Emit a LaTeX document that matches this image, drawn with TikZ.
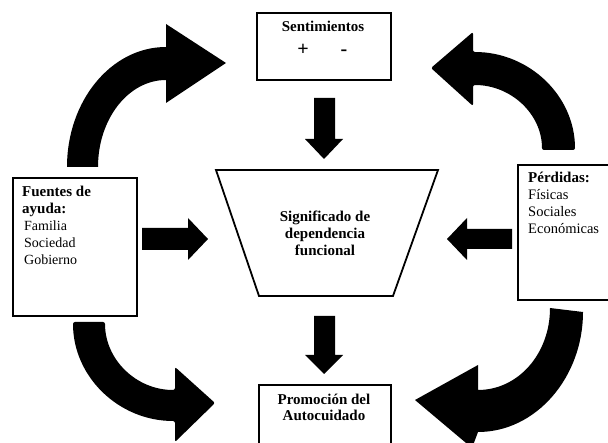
\documentclass[tikz,border=0pt]{standalone}
\usepackage{fontspec}
\setmainfont{Liberation Serif}
\begin{document}
\begin{tikzpicture}[x=1pt,y=-1pt,
  box/.style={draw, line width=2pt, fill=white, inner sep=0pt, anchor=north west},
  blk/.style={fill=black},
  bt/.style={font=\fontsize{15}{18}\selectfont\bfseries, inner sep=0pt},
  sg/.style={font=\fontsize{20}{22}\selectfont\bfseries, inner sep=0pt, anchor=base},
  rt/.style={font=\fontsize{14}{17}\selectfont, inner sep=0pt, anchor=base west},
  rtp/.style={font=\fontsize{14.5}{17}\selectfont, inner sep=0pt, anchor=base west}]
\clip (0,0) rectangle (608,443);
\fill[white] (0,0) rectangle (608,443);

% boxes
\node[box, minimum width=134pt, minimum height=67pt] (sent) at (256,12) {};
\node[box, minimum width=124pt, minimum height=138pt] (fuen) at (12,177) {};
\node[box, minimum width=100pt, minimum height=135pt] (perd) at (517,164) {};
\node[box, minimum width=132pt, minimum height=70pt] (prom) at (258,384) {};
\draw[line width=1.8pt, line join=miter] (216,170) coordinate (tl) -- (438,170) coordinate (tr)
  -- (393,296) coordinate (br) -- (259,296) coordinate (bl) -- cycle;

% texts
\node[bt, anchor=base] (t1) at (323,32) {Sentimientos};
\node[sg] (t2) at (303,56) {+};
\node[sg] (t3) at (344,56) {-};

\node[bt, anchor=base west] (f1) at (22,197) {Fuentes de};
\node[bt, anchor=base west] (f2) at (22,214) {ayuda:};
\node[rt] (f3) at (24,231) {Familia};
\node[rt] (f4) at (24,248) {Sociedad};
\node[rt] (f5) at (24,265) {Gobierno};

\node[bt, anchor=base west] (p1) at (528,183) {Pérdidas:};
\node[rtp] (p2) at (528,200) {Físicas};
\node[rtp] (p3) at (528,217) {Sociales};
\node[rtp] (p4) at (528,234) {Económicas};

\node[bt, anchor=base] (s1) at (325,222) {Significado de};
\node[bt, anchor=base] (s2) at (325,239) {dependencia};
\node[bt, anchor=base] (s3) at (325,256) {funcional};

\node[bt, anchor=base] (a1) at (324,405) {Promoción del};
\node[bt, anchor=base] (a2) at (324,421) {Autocuidado};

% straight block arrows
\fill[blk] (314,98) -- (335,98) -- (335,139) -- (343,139) -- (324,159) -- (305,139) -- (314,139) -- cycle;
\fill[blk] (314,316) -- (335,316) -- (335,355) -- (343,355) -- (324,374) -- (305,355) -- (314,355) -- cycle;
\fill[blk] (142,228) -- (188,228) -- (188,218) -- (208,239) -- (188,260) -- (188,250) -- (142,250) -- cycle;
\fill[blk] (512,229) -- (467,229) -- (467,218) -- (447,239) -- (467,260) -- (467,249) -- (512,249) -- cycle;

% curved block arrows
\fill[blk] (67,167) .. controls (67,100.7) and (111.3,47) .. (166,47)
  -- (166,24) -- (226,63) -- (166,103) -- (166,80)
  .. controls (128.4,80) and (98,118.9) .. (98,167) -- cycle;
\fill[blk, rounded corners=2pt] (575,150) .. controls (575,95.9) and (529.3,52) .. (473,52)
  -- (473,32) -- (431,68) -- (473,106) -- (473,85)
  .. controls (511.1,85) and (542,114.1) .. (542,150) -- cycle;
\fill[blk, rounded corners=2pt] (73,322) .. controls (73,376.7) and (118.7,421) .. (175,421)
  -- (175,442) -- (215,403) -- (175,367) -- (175,390)
  .. controls (136.3,390) and (105,359.6) .. (105,322) -- cycle;
\fill[blk] (583,312) .. controls (583,377.4) and (536,432) .. (478,432)
  -- (472,448) -- (415,400) -- (478,365) -- (478,390)
  .. controls (517.8,390) and (550,354.2) .. (550,308) -- cycle;
\end{tikzpicture}
\end{document}
